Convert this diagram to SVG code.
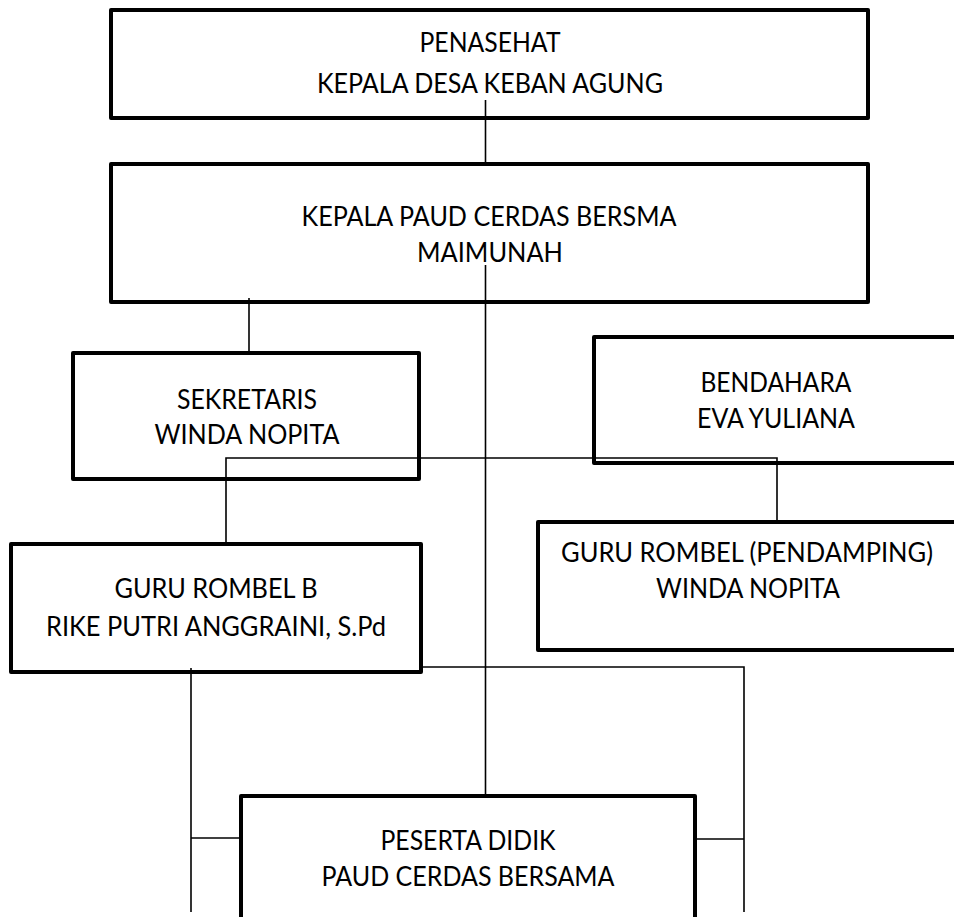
<svg xmlns="http://www.w3.org/2000/svg" width="954" height="917" viewBox="0 0 954 917">
<style>
.box{fill:#fff;stroke:#000;stroke-width:4;stroke-linejoin:round}
.t{font-family:Lato,"Open Sans","Liberation Sans",sans-serif;font-size:26px;fill:#000;text-anchor:middle}
.c{fill:none;stroke:#000;stroke-width:1.6}
</style>
<rect width="954" height="917" fill="#fff"/>
<g id="penasehat">
<rect class="box" x="111" y="10" width="757" height="108"/>
<text class="t" x="490" y="52" textLength="141" lengthAdjust="spacingAndGlyphs">PENASEHAT</text>
<text class="t" x="490" y="93" textLength="346" lengthAdjust="spacingAndGlyphs">KEPALA DESA KEBAN AGUNG</text>
</g>
<g id="kepala">
<rect class="box" x="111" y="164" width="757" height="138"/>
<text class="t" x="489" y="226" textLength="375" lengthAdjust="spacingAndGlyphs">KEPALA PAUD CERDAS BERSMA</text>
<text class="t" x="490" y="262" textLength="146" lengthAdjust="spacingAndGlyphs">MAIMUNAH</text>
</g>
<g id="sekretaris">
<rect class="box" x="73" y="353" width="346" height="126"/>
<text class="t" x="247" y="409" textLength="140" lengthAdjust="spacingAndGlyphs">SEKRETARIS</text>
<text class="t" x="247" y="444" textLength="185" lengthAdjust="spacingAndGlyphs">WINDA NOPITA</text>
</g>
<g id="bendahara">
<rect class="box" x="594" y="337" width="362" height="126"/>
<text class="t" x="776" y="392" textLength="151" lengthAdjust="spacingAndGlyphs">BENDAHARA</text>
<text class="t" x="776" y="428" textLength="158" lengthAdjust="spacingAndGlyphs">EVA YULIANA</text>
</g>
<g id="guru-b">
<rect class="box" x="11" y="544" width="410" height="128"/>
<text class="t" x="216" y="598" textLength="203" lengthAdjust="spacingAndGlyphs">GURU ROMBEL B</text>
<text class="t" x="216" y="636" textLength="340" lengthAdjust="spacingAndGlyphs">RIKE PUTRI ANGGRAINI, S.Pd</text>
</g>
<g id="guru-pendamping">
<rect class="box" x="538" y="522" width="440" height="128"/>
<text class="t" x="747" y="562" textLength="372" lengthAdjust="spacingAndGlyphs">GURU ROMBEL (PENDAMPING)</text>
<text class="t" x="748" y="598" textLength="184" lengthAdjust="spacingAndGlyphs">WINDA NOPITA</text>
</g>
<g id="peserta">
<rect class="box" x="241" y="796" width="454" height="140"/>
<text class="t" x="468" y="850" textLength="175" lengthAdjust="spacingAndGlyphs">PESERTA DIDIK</text>
<text class="t" x="468" y="886" textLength="293" lengthAdjust="spacingAndGlyphs">PAUD CERDAS BERSAMA</text>
</g>
<g id="connectors">
<path class="c" d="M485.5 100V164"/>
<path class="c" d="M485.5 265V796"/>
<path class="c" d="M249 298V353"/>
<path class="c" d="M226 544V458H777V522"/>
<path class="c" d="M421 667H744V912"/>
<path class="c" d="M191 668V912"/>
<path class="c" d="M191 838H241"/>
<path class="c" d="M695 839H744"/>
</g>
</svg>
